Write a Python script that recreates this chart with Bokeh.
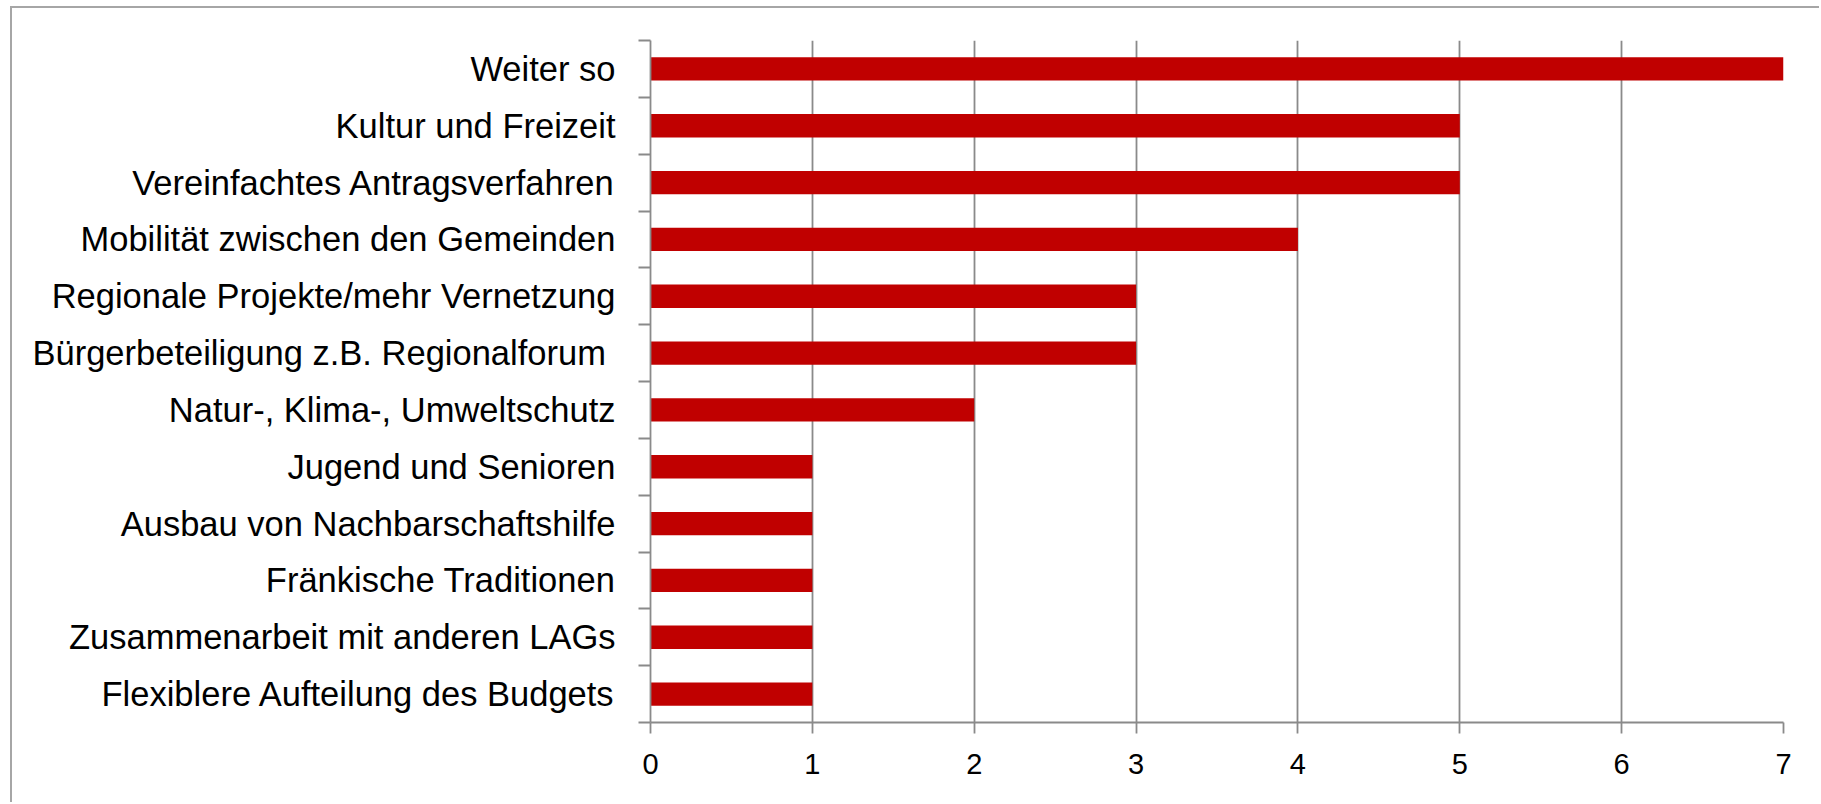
from bokeh.plotting import figure
from bokeh.models import FixedTicker, Range1d
from bokeh.embed import file_html
from bokeh.resources import INLINE

categories = [
    "Weiter so",
    "Kultur und Freizeit",
    "Vereinfachtes Antragsverfahren",
    "Mobilität zwischen den Gemeinden",
    "Regionale Projekte/mehr Vernetzung",
    "Bürgerbeteiligung z.B. Regionalforum ",
    "Natur-, Klima-, Umweltschutz",
    "Jugend und Senioren",
    "Ausbau von Nachbarschaftshilfe",
    "Fränkische Traditionen",
    "Zusammenarbeit mit anderen LAGs",
    "Flexiblere Aufteilung des Budgets",
]
values = [7, 5, 5, 4, 3, 3, 2, 1, 1, 1, 1, 1]
x_ticks = [0, 1, 2, 3, 4, 5, 6, 7]

n = len(categories)
centers = [n - 1 - i for i in range(n)]
boundaries = [k - 0.5 for k in range(n + 1)]

GRID = "#8a8a8a"
BAR = "#C00000"
FONT = "Liberation Sans"

p = figure(
    width=1809, height=796,
    x_range=Range1d(0, 7), y_range=Range1d(-0.5, n - 0.5),
    output_backend="svg", toolbar_location=None,
    min_border_left=638, min_border_right=38,
    min_border_top=32, min_border_bottom=82,
    styles={"border-top": "2px solid #a6a6a6", "border-left": "2px solid #a6a6a6",
            "margin-top": "6px", "margin-left": "10px"},
)
p.outline_line_color = None
p.background_fill_color = "white"
p.border_fill_color = "white"

p.hbar(y=centers, right=values, left=0, height=0.41, fill_color=BAR, line_color=None)

# x axis
p.xaxis.ticker = FixedTicker(ticks=x_ticks)
p.xaxis.axis_line_color = GRID
p.xaxis.axis_line_width = 1.8
p.xaxis.major_tick_line_color = GRID
p.xaxis.major_tick_line_width = 1.8
p.xaxis.major_tick_in = 0
p.xaxis.major_tick_out = 11
p.xaxis.minor_tick_line_color = None
p.xaxis.major_label_text_font = FONT
p.xaxis.major_label_text_font_size = "29px"
p.xaxis.major_label_text_color = "#000000"
p.xaxis.major_label_standoff = 20

# y axis
p.yaxis.ticker = FixedTicker(ticks=centers, minor_ticks=boundaries)
p.yaxis.major_label_overrides = {c: lab for c, lab in zip(centers, categories)}
p.yaxis.axis_line_color = GRID
p.yaxis.axis_line_width = 1.8
p.yaxis.major_tick_line_color = None
p.yaxis.major_tick_in = 0
p.yaxis.major_tick_out = 0
p.yaxis.minor_tick_line_color = GRID
p.yaxis.minor_tick_line_width = 1.8
p.yaxis.minor_tick_in = 0
p.yaxis.minor_tick_out = 12
p.yaxis.major_label_text_font = FONT
p.yaxis.major_label_text_font_size = "34.5px"
p.yaxis.major_label_text_color = "#000000"
p.yaxis.major_label_standoff = 23

# grids
p.xgrid.ticker = FixedTicker(ticks=x_ticks)
p.xgrid.grid_line_color = GRID
p.xgrid.grid_line_width = 1.8
p.ygrid.grid_line_color = None

open("out.html", "w").write(file_html(p, INLINE))
